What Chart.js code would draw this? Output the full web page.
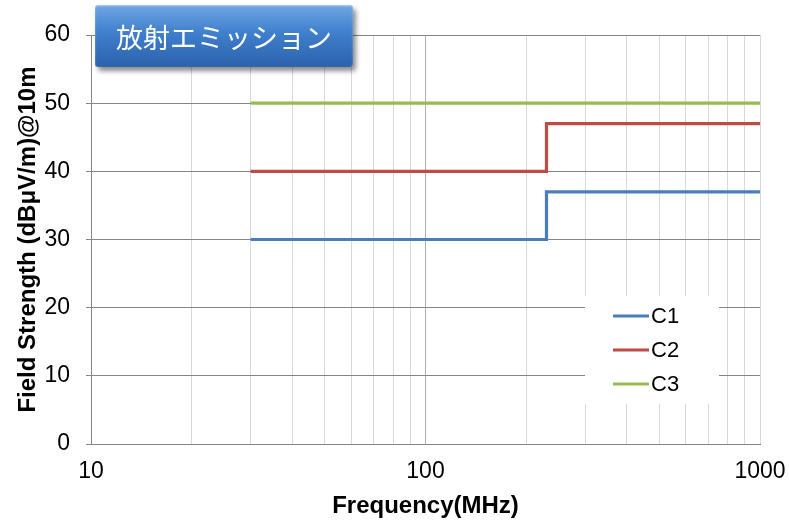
<!DOCTYPE html>
<html>
<head>
<meta charset="utf-8">
<script src="https://cdn.jsdelivr.net/npm/chart.js@4/dist/chart.umd.min.js"></script>
<style>
html,body{margin:0;padding:0;background:#fff;}
#wrap{position:relative;width:789px;height:521px;}
#title{position:absolute;left:95px;top:5px;width:258px;height:62px;
 background:linear-gradient(#6ea6e4,#3f7fcc 45%,#2c62ad);
 border-radius:3px;box-shadow:3px 4px 5px rgba(0,0,0,0.45), inset 0 1px 2px rgba(255,255,255,0.5);
 color:#fff;font-family:"Noto Sans CJK JP","Noto Sans",sans-serif;font-size:27px;
 display:flex;align-items:center;justify-content:center;letter-spacing:0px;z-index:2;}
canvas{position:absolute;left:0;top:0;}
</style>
</head>
<body>
<div id="wrap">
<canvas id="c" width="789" height="521"></canvas>
<div id="title">放射エミッション</div>
</div>
<script>
const freqs = [30, 230, 1000];
const c1 = [30, 37, 37];
const c2 = [40, 47, 47];
const c3 = [50, 50, 50];
const seriesNames = ['C1', 'C2', 'C3'];
const xTicks = [10,20,30,40,50,60,70,80,90,100,200,300,400,500,600,700,800,900,1000];
const xLabels = [10, 100, 1000];
const yTicks = [0,10,20,30,40,50,60];

const pts = arr => freqs.map((f,i)=>({x:f,y:arr[i]}));
const colors = ['#4a7ebb','#be4b48','#98b954'];

const legendPlugin = {
  id:'boxLegend',
  afterDatasetsDraw(chart){
    const ctx = chart.ctx;
    ctx.save();
    ctx.fillStyle = '#fff';
    ctx.fillRect(585, 296, 134, 108);
    chart.data.datasets.forEach((ds,i)=>{
      const y = 316 + i*34;
      ctx.strokeStyle = ds.borderColor;
      ctx.lineWidth = 3;
      ctx.beginPath(); ctx.moveTo(613,y); ctx.lineTo(649,y); ctx.stroke();
      ctx.fillStyle = '#000';
      ctx.font = '22px "Liberation Sans", Arial, sans-serif';
      ctx.textBaseline = 'middle';
      ctx.fillText(ds.label, 651, y+1);
    });
    ctx.restore();
  }
};

new Chart(document.getElementById('c'), {
  type:'line',
  data:{datasets:[
    {label:seriesNames[0], data:pts(c1), borderColor:colors[0], backgroundColor:colors[0]},
    {label:seriesNames[1], data:pts(c2), borderColor:colors[1], backgroundColor:colors[1]},
    {label:seriesNames[2], data:pts(c3), borderColor:colors[2], backgroundColor:colors[2]}
  ]},
  options:{
    responsive:false, animation:false,
    layout:{padding:{left:0,right:29,top:35,bottom:0}},
    elements:{line:{borderWidth:3.2, stepped:'before', tension:0}, point:{radius:0}},
    plugins:{legend:{display:false}, tooltip:{enabled:false}},
    scales:{
      x:{type:'logarithmic', min:10, max:1000,
        afterBuildTicks(s){ s.ticks = xTicks.map(v=>({value:v})); },
        afterFit(s){ s.height = 77; s.paddingLeft = 0; s.paddingRight = 0; },
        ticks:{autoSkip:false, maxRotation:0, padding:14, color:'#000',
          font:{family:'"Liberation Sans", Arial, sans-serif', size:23},
          callback:(v)=> xLabels.includes(v) ? String(v) : ''},
        grid:{color:(c)=> (c.tick && c.tick.value===100) ? '#b0b0b0' : '#d9d9d9', drawTicks:false, lineWidth:1},
        border:{color:'#868686'},
        title:{display:true, text:'Frequency(MHz)', color:'#000', padding:{top:3, bottom:0},
          font:{family:'"Liberation Sans", Arial, sans-serif', size:24, weight:'bold'}}
      },
      y:{min:0, max:60,
        afterBuildTicks(s){ s.ticks = yTicks.map(v=>({value:v})); },
        afterFit(s){ s.width = 91; s.paddingTop = 0; s.paddingBottom = 0; },
        ticks:{padding:16, color:'#000',
          font:{family:'"Liberation Sans", Arial, sans-serif', size:23}},
        grid:{color:'#868686', tickLength:5, tickColor:'#868686'},
        border:{color:'#868686'},
        title:{display:true, text:'Field Strength (dBμV/m)@10m', color:'#000', padding:{top:14, bottom:0},
          font:{family:'"Liberation Sans", Arial, sans-serif', size:24, weight:'bold'}}
      }
    }
  },
  plugins:[legendPlugin]
});
</script>
</body>
</html>
